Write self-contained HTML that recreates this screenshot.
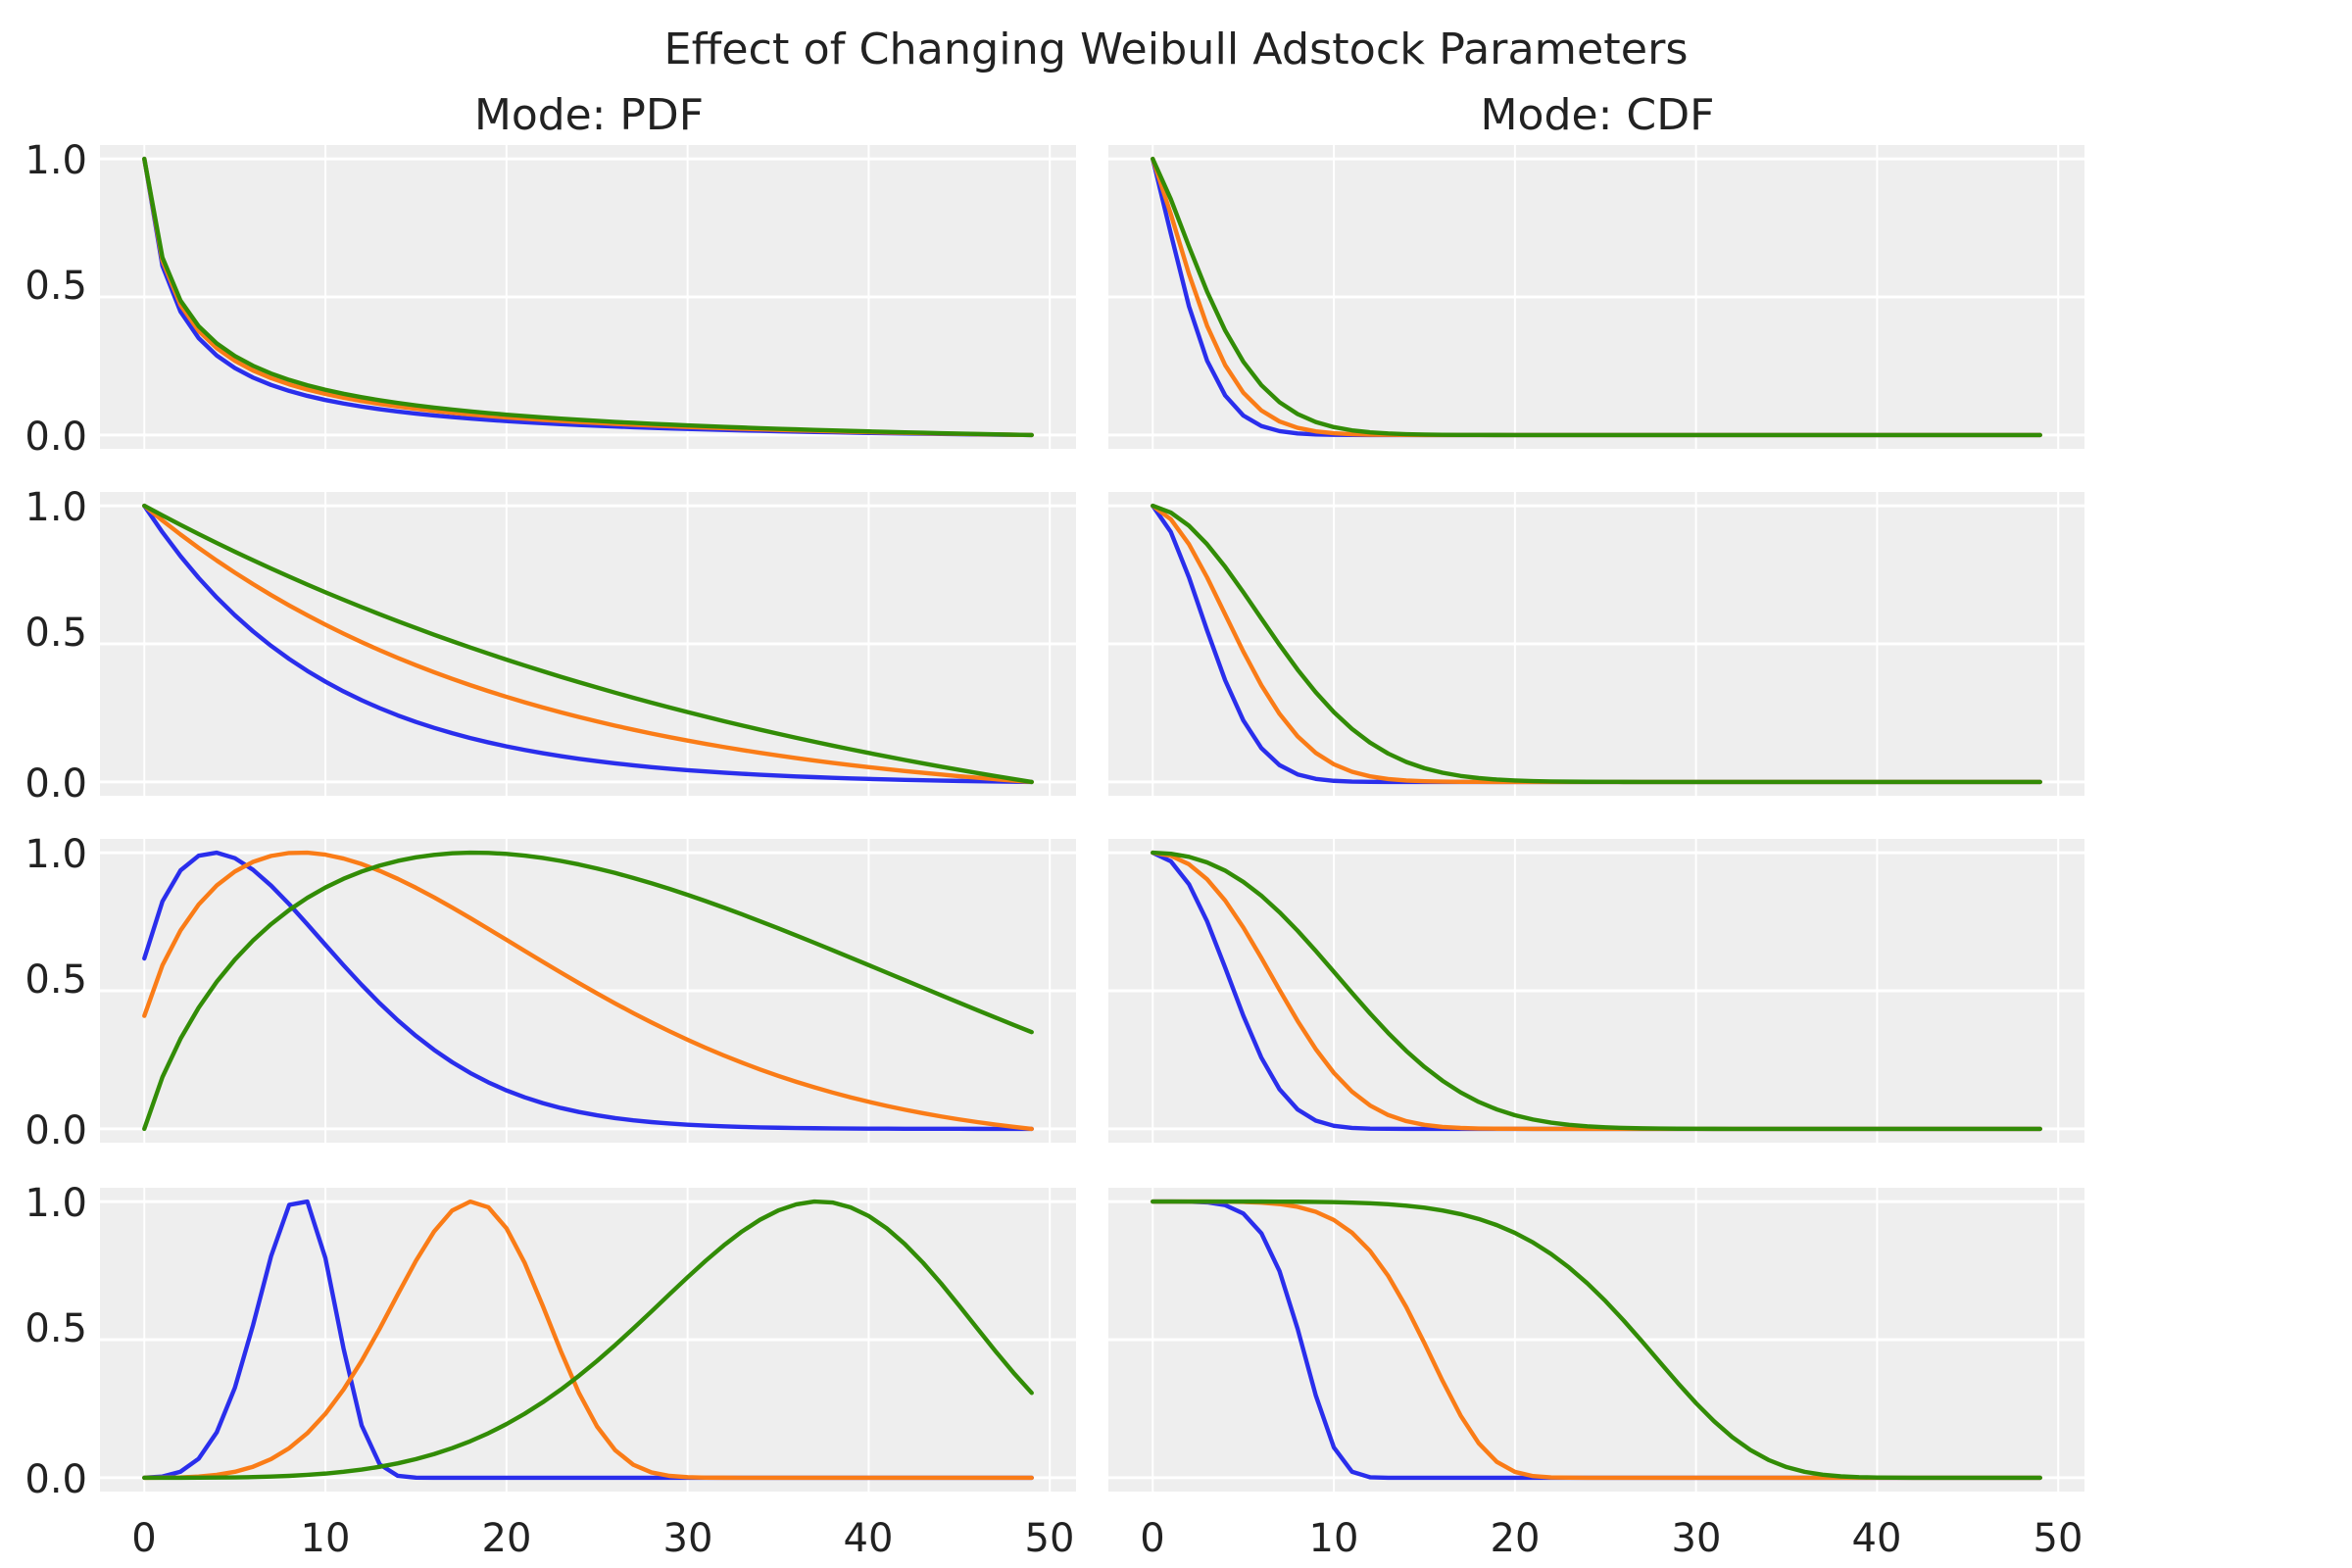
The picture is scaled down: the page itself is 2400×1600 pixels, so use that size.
<!DOCTYPE html>
<html><head><meta charset="utf-8"><style>
html,body{margin:0;padding:0;background:#fff;}
svg{display:block;font-family:"DejaVu Sans","Liberation Sans",sans-serif;}
</style></head><body>
<svg id="s" width="2400" height="1600" viewBox="0 0 2400 1600" xmlns="http://www.w3.org/2000/svg">
<rect width="2400" height="1600" fill="#fff"/>
<g id="axes"></g>
<text x="1200" y="65" font-size="44" fill="#222" text-anchor="middle" textLength="1045" lengthAdjust="spacingAndGlyphs">Effect of Changing Weibull Adstock Parameters</text>
<text x="601" y="132" font-size="44" fill="#222" text-anchor="middle" textLength="234" lengthAdjust="spacingAndGlyphs">Mode: PDF</text>
<text x="1630" y="132" font-size="44" fill="#222" text-anchor="middle" textLength="239" lengthAdjust="spacingAndGlyphs">Mode: CDF</text>
<g font-size="40" fill="#222" text-anchor="end">
<text x="89" y="177">1.0</text><text x="89" y="305">0.5</text><text x="89" y="459">0.0</text>
<text x="89" y="531">1.0</text><text x="89" y="659">0.5</text><text x="89" y="813">0.0</text>
<text x="89" y="885">1.0</text><text x="89" y="1013">0.5</text><text x="89" y="1167">0.0</text>
<text x="89" y="1241">1.0</text><text x="89" y="1369">0.5</text><text x="89" y="1523">0.0</text>
</g>
<g font-size="40" fill="#222" text-anchor="middle">
<text x="147" y="1583">0</text><text x="332" y="1583">10</text><text x="517" y="1583">20</text><text x="702" y="1583">30</text><text x="886" y="1583">40</text><text x="1071" y="1583">50</text>
<text x="1176" y="1583">0</text><text x="1361" y="1583">10</text><text x="1546" y="1583">20</text><text x="1731" y="1583">30</text><text x="1915" y="1583">40</text><text x="2100" y="1583">50</text>
</g>
</svg>
<script>
(function(){
var NS="http://www.w3.org/2000/svg";
var g=document.getElementById("axes");
var lefts=[102,1131],W=996,tops=[148,502,856,1212],H=310;
var ks=[0.5,1,1.5,5],lams=[10,20,40],cols=["#2a2eec","#fa7c17","#328c06"];
function el(n,a){var e=document.createElementNS(NS,n);for(var k in a)e.setAttribute(k,a[k]);g.appendChild(e);return e;}
for(var r=0;r<4;r++){for(var c=0;c<2;c++){
 var L=lefts[c],T=tops[r];
 var X=function(x){return L+(x+2.45)/53.9*W;};
 var Y=function(v){return T+(1.05-v)/1.1*H;};
 el("rect",{x:L,y:T,width:W,height:H,fill:"#eeeeee"});
 for(var t=0;t<=50;t+=10)el("line",{x1:X(t),x2:X(t),y1:T,y2:T+H,stroke:"#fff","stroke-width":2});
 [0,0.5,1].forEach(function(v){el("line",{x1:L,x2:L+W,y1:Y(v),y2:Y(v),stroke:"#fff","stroke-width":3});});
 var k=ks[r];
 for(var i=0;i<3;i++){
  var lam=lams[i],w=[];
  if(c==0){
   for(var t=1;t<=50;t++)w.push(k/lam*Math.pow(t/lam,k-1)*Math.exp(-Math.pow(t/lam,k)));
   var mn=Math.min.apply(null,w),mx=Math.max.apply(null,w);
   w=w.map(function(v){return (v-mn)/(mx-mn);});
  }else{
   var p=1;w.push(1);
   for(var t=1;t<50;t++){p*=Math.exp(-Math.pow(t/lam,k));w.push(p);}
  }
  var d="";
  for(var j=0;j<50;j++)d+=(j?"L":"M")+X(j).toFixed(2)+","+Y(w[j]).toFixed(2);
  el("path",{d:d,fill:"none",stroke:cols[i],"stroke-width":4.4,"stroke-linejoin":"round","stroke-linecap":"round"});
 }
}}
})();
</script>
</body></html>
